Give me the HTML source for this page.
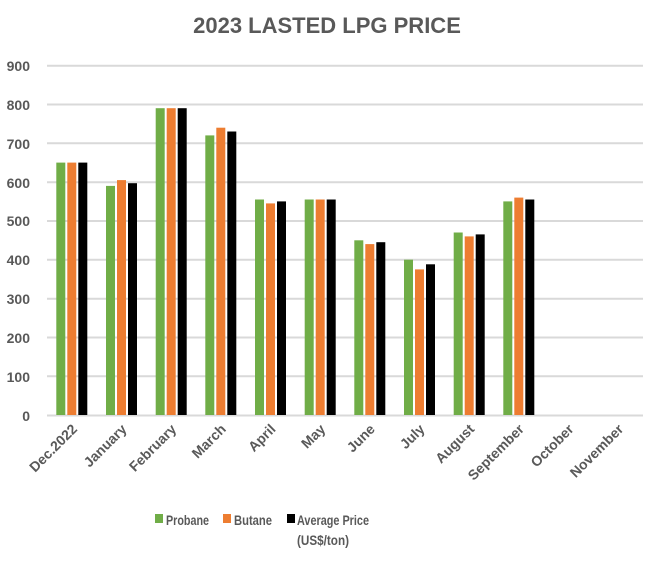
<!DOCTYPE html>
<html><head><style>
body{margin:0;background:#fff;}
svg text{font-family:"Liberation Sans",sans-serif;font-weight:bold;fill:#595959;}
</style></head><body>
<svg width="652" height="560" xmlns="http://www.w3.org/2000/svg">
<rect width="652" height="560" fill="#fff"/>
<text x="327" y="33" font-size="22" text-anchor="middle">2023 LASTED LPG PRICE</text>
<g stroke="#d9d9d9" stroke-width="2">
<line x1="47" x2="643" y1="65.7" y2="65.7"/>
<line x1="47" x2="643" y1="104.5" y2="104.5"/>
<line x1="47" x2="643" y1="143.3" y2="143.3"/>
<line x1="47" x2="643" y1="182.2" y2="182.2"/>
<line x1="47" x2="643" y1="221" y2="221"/>
<line x1="47" x2="643" y1="259.8" y2="259.8"/>
<line x1="47" x2="643" y1="298.7" y2="298.7"/>
<line x1="47" x2="643" y1="337.5" y2="337.5"/>
<line x1="47" x2="643" y1="376.3" y2="376.3"/>
<line x1="47" x2="643" y1="415.5" y2="415.5"/>
</g>
<g font-size="14" text-anchor="end">
<text x="30" y="71">900</text><text x="30" y="110">800</text><text x="30" y="149">700</text>
<text x="30" y="188">600</text><text x="30" y="226">500</text><text x="30" y="265">400</text>
<text x="30" y="304">300</text><text x="30" y="343">200</text><text x="30" y="382">100</text>
<text x="30" y="421">0</text>
</g>
<g fill="#70ad47">
<rect x="56.3" y="162.6" width="9" height="252.4"/>
<rect x="106" y="185.9" width="9" height="229.1"/>
<rect x="155.7" y="108.2" width="9" height="306.8"/>
<rect x="205.3" y="135.4" width="9" height="279.6"/>
<rect x="255" y="199.5" width="9" height="215.5"/>
<rect x="304.7" y="199.5" width="9" height="215.5"/>
<rect x="354.3" y="240.3" width="9" height="174.7"/>
<rect x="404" y="259.7" width="9" height="155.3"/>
<rect x="453.7" y="232.5" width="9" height="182.5"/>
<rect x="503.3" y="201.4" width="9" height="213.6"/>
</g>
<g fill="#ed7d31">
<rect x="67.3" y="162.6" width="9" height="252.4"/>
<rect x="117" y="180.1" width="9" height="234.9"/>
<rect x="166.7" y="108.2" width="9" height="306.8"/>
<rect x="216.3" y="127.7" width="9" height="287.3"/>
<rect x="266" y="203.4" width="9" height="211.6"/>
<rect x="315.7" y="199.5" width="9" height="215.5"/>
<rect x="365.3" y="244.1" width="9" height="170.9"/>
<rect x="415" y="269.4" width="9" height="145.6"/>
<rect x="464.7" y="236.4" width="9" height="178.6"/>
<rect x="514.3" y="197.6" width="9" height="217.4"/>
</g>
<g fill="#000">
<rect x="78.3" y="162.6" width="9" height="252.4"/>
<rect x="128" y="183.2" width="9" height="231.8"/>
<rect x="177.7" y="108.2" width="9" height="306.8"/>
<rect x="227.3" y="131.5" width="9" height="283.5"/>
<rect x="277" y="201.4" width="9" height="213.6"/>
<rect x="326.7" y="199.5" width="9" height="215.5"/>
<rect x="376.3" y="242.2" width="9" height="172.8"/>
<rect x="426" y="264.3" width="9" height="150.7"/>
<rect x="475.7" y="234.4" width="9" height="180.6"/>
<rect x="525.3" y="199.5" width="9" height="215.5"/>
</g>
<g font-size="14" text-anchor="end">
<text transform="translate(78,430) rotate(-45)">Dec.2022</text>
<text transform="translate(127.5,430) rotate(-45)">January</text>
<text transform="translate(177.2,430) rotate(-45)">February</text>
<text transform="translate(226.8,430) rotate(-45)">March</text>
<text transform="translate(276.5,430) rotate(-45)">April</text>
<text transform="translate(326.2,430) rotate(-45)">May</text>
<text transform="translate(375.8,430) rotate(-45)">June</text>
<text transform="translate(425.5,430) rotate(-45)">July</text>
<text transform="translate(475.2,430) rotate(-45)">August</text>
<text transform="translate(524.8,430) rotate(-45)">September</text>
<text transform="translate(574.5,430) rotate(-45)">October</text>
<text transform="translate(624.2,430) rotate(-45)">November</text>
</g>
<rect x="155" y="514" width="8" height="9" fill="#70ad47"/>
<text x="166" y="525" font-size="14" textLength="43" lengthAdjust="spacingAndGlyphs">Probane</text>
<rect x="223" y="514" width="8" height="9" fill="#ed7d31"/>
<text x="234" y="525" font-size="14" textLength="38" lengthAdjust="spacingAndGlyphs">Butane</text>
<rect x="287" y="514" width="8" height="9" fill="#000"/>
<text x="297" y="525" font-size="14" textLength="72" lengthAdjust="spacingAndGlyphs">Average Price</text>
<text x="297" y="545" font-size="14" textLength="52" lengthAdjust="spacingAndGlyphs">(US$/ton)</text>
</svg>
</body></html>
